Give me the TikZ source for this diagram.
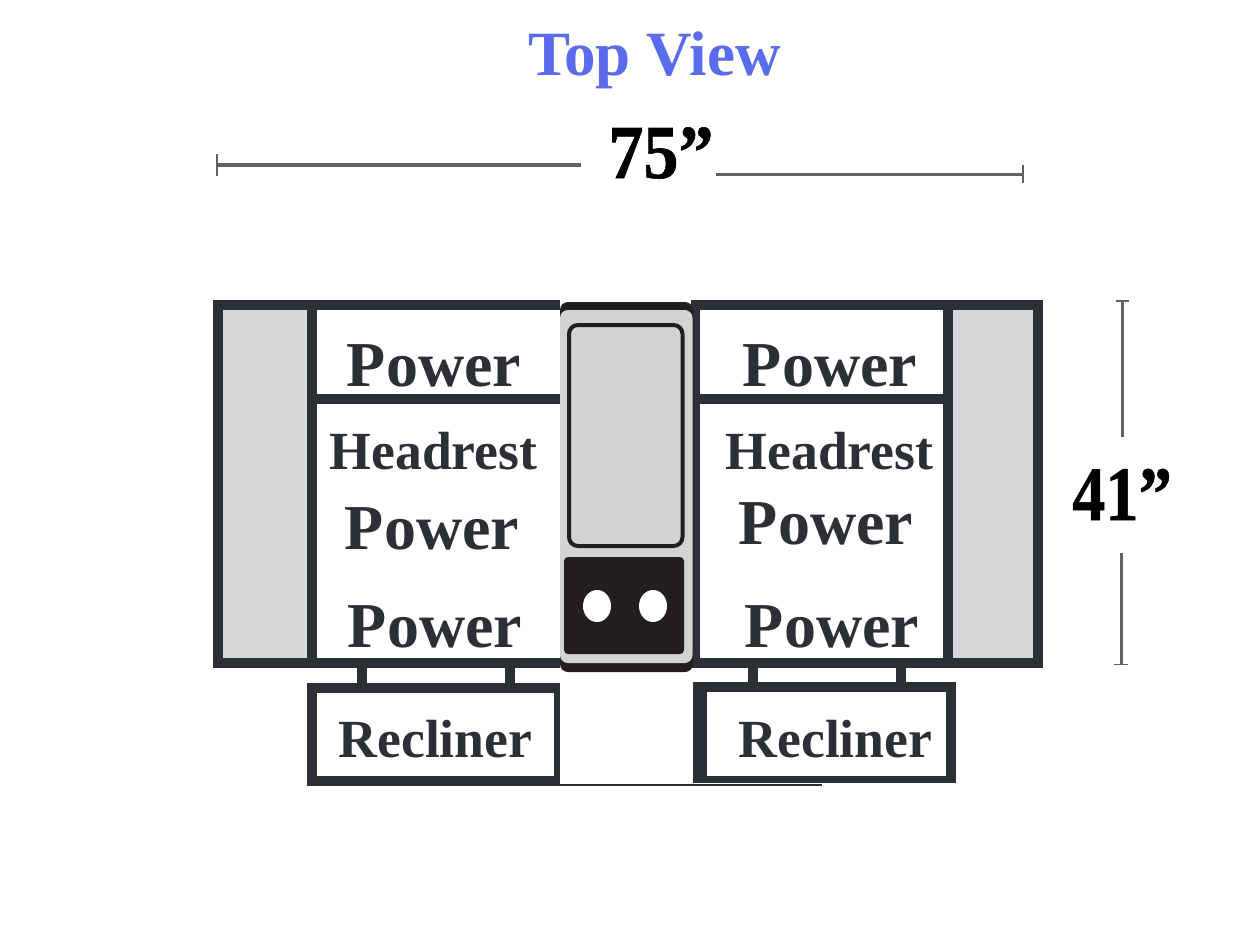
\documentclass[tikz,border=0pt]{standalone}
\usepackage{fontspec}
\setmainfont{Liberation Serif}
\newfontfamily\heavyserif[FakeBold=0.8]{Liberation Serif Bold}
\usepackage{graphicx}
\usepackage{xcolor}
\usetikzlibrary{arrows.meta}
\definecolor{walldark}{HTML}{2D2F36}
\definecolor{armgrey}{HTML}{D6D8DA}
\definecolor{consolegrey}{HTML}{D2D4D2}
\definecolor{consoledark}{HTML}{231F20}
\definecolor{titleblue}{HTML}{5B6BED}
\definecolor{dimgrey}{HTML}{606166}

\begin{document}
\begin{tikzpicture}[
    x=1pt, y=-1pt,
    wall/.style={draw=walldark, line width=9.6pt, line join=miter},
    arm/.style={wall, fill=armgrey},
    seat/.style={wall, fill=white},
    dimline/.style={draw=dimgrey, line width=3pt},
    every node/.style={inner sep=0pt, anchor=base},
    bigword/.style={font=\fontsize{64}{64}\selectfont\bfseries, text=walldark},
    smallword/.style={font=\fontsize{53.7}{54}\selectfont\bfseries, text=walldark},
    size/.style={font=\fontsize{70}{72}\selectfont\heavyserif, text=black}
]
\useasboundingbox (0,0) rectangle (1250,950);
\fill[white] (0,0) rectangle (1250,950);

% title and sizes
\node[font=\fontsize{63}{65}\selectfont\bfseries, text=titleblue] (title) at (654.5,75) {Top View};
\node[size] (width) at (661,178) {\scalebox{1}[1.09]{75”}};
\node[size] (depth) at (1122,520) {\scalebox{0.95}[1.1]{41”}};

\coordinate (widthA) at (216,165);
\coordinate (widthB) at (581,165);
\coordinate (widthC) at (716,174);
\coordinate (widthD) at (1024,174);
\coordinate (depthA) at (1122,300);
\coordinate (depthB) at (1122,437);
\coordinate (depthC) at (1121,553);
\coordinate (depthD) at (1121,665);
\draw[dimline, line width=4pt, {Bar[width=22pt,line width=2pt]}-] (widthA) -- (widthB);
\draw[dimline, -{Bar[width=18pt,line width=2pt]}] (widthC) -- (widthD);
\draw[dimline, {Bar[width=13pt,line width=1.5pt]}-] (depthA) -- (depthB);
\draw[dimline, -{Bar[width=14pt,line width=1.5pt]}] (depthC) -- (depthD);

% recliner links
\draw[wall] (362,663) -- (362,688);
\draw[wall] (510,663) -- (510,688);
\draw[wall] (753,663) -- (753,688);
\draw[wall] (901,663) -- (901,688);

% recliners
\draw[seat] (312,688) rectangle (559,781);
\draw[seat] (701,687) rectangle (951,781);
\draw[wall, line width=14pt] (700,682) -- (700,783);
\fill[white] (690,783) rectangle (960,790);
\fill[white] (560,672) rectangle (693,783.5);
\fill[walldark] (562,783.5) rectangle (822,786);

% left seat
\draw[arm] (218,305) rectangle (312,663);
\draw[seat] (560,305) -| (312,663) -- (560,663);
\draw[wall] (312,399) -- (560,399);

% right seat
\draw[arm] (948,305) rectangle (1038,663);
\draw[seat] (695.5,305) rectangle (948,663);
\draw[wall] (695.5,399) -- (948,399);

% console
\fill[consoledark, rounded corners=8pt] (560,302) rectangle (693,672);
\fill[consolegrey, rounded corners=8pt] (560,310) rectangle (692.5,663);
\draw[draw=consoledark, fill=consolegrey, line width=4pt, rounded corners=9pt] (569,325) rectangle (682.5,546);
\fill[consoledark, rounded corners=4pt] (564,557) rectangle (684,654);
\fill[white] (597,606) ellipse (14pt and 16pt);
\fill[white] (653,606) ellipse (14pt and 16pt);

% labels
\node[bigword] (powerA) at (434,386.5) {Power};
\node[smallword] (headA) at (433.5,469.5) {Headrest};
\node[bigword] (powerB) at (432,549) {Power};
\node[bigword] (powerC) at (435,647) {Power};
\node[smallword] (reclA) at (435.5,757) {Recliner};
\node[bigword] (powerD) at (830,386.5) {Power};
\node[smallword] (headB) at (829.5,469.5) {Headrest};
\node[bigword] (powerE) at (826,544.5) {Power};
\node[bigword] (powerF) at (832,647) {Power};
\node[smallword] (reclB) at (835.5,757) {Recliner};
\end{tikzpicture}
\end{document}
